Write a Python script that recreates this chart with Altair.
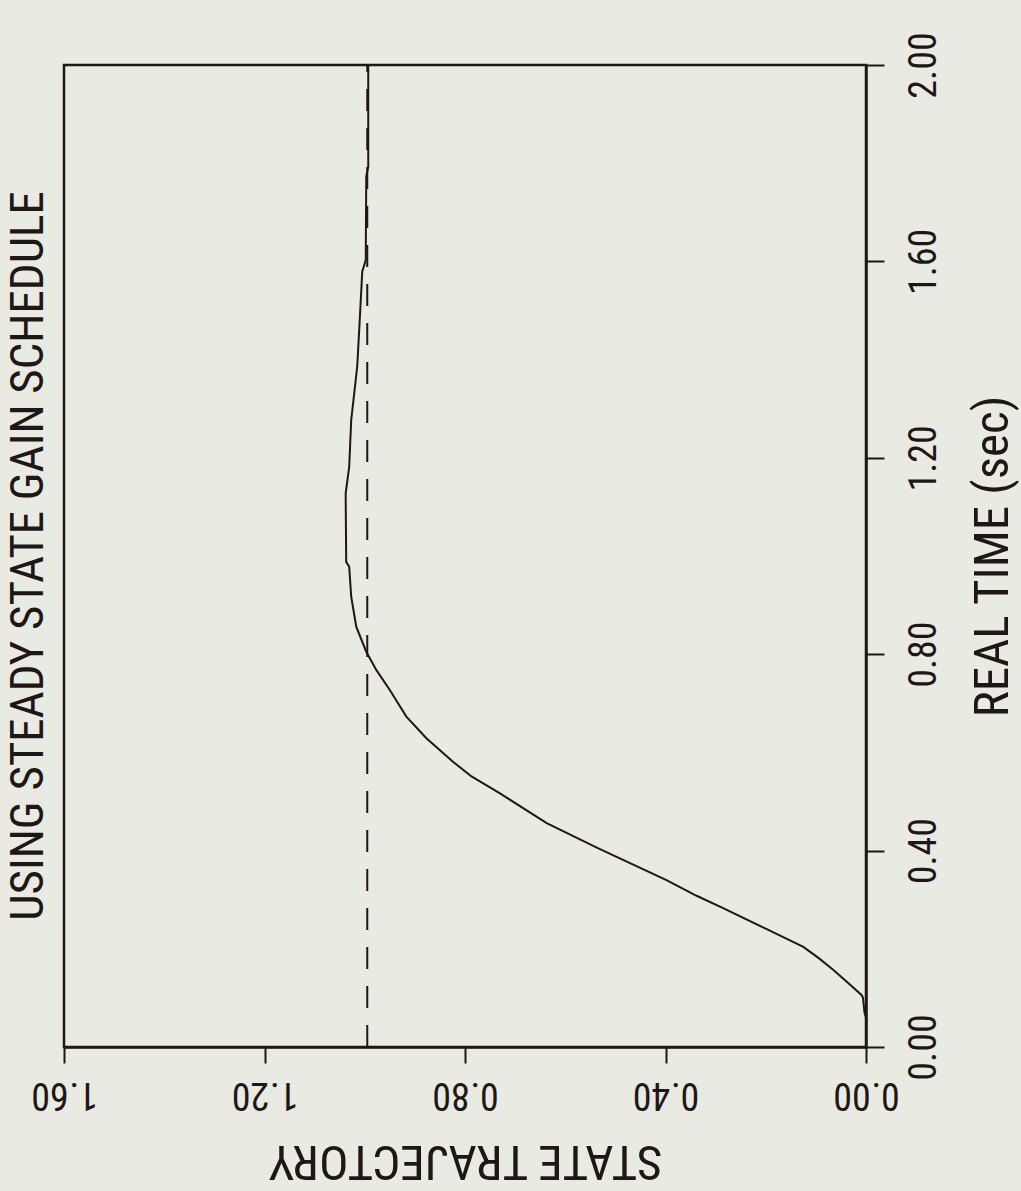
import altair as alt
import pandas as pd

# ---- data ----
time_s = [0.00, 0.06, 0.07, 0.10, 0.106, 0.130, 0.157, 0.180, 0.204, 0.240, 0.283, 0.308, 0.340,
          0.405, 0.456, 0.517, 0.551, 0.581, 0.629, 0.673, 0.727, 0.768, 0.805,
          0.856, 0.917, 0.978, 0.988, 1.114, 1.128, 1.182, 1.277, 1.331, 1.386,
          1.481, 1.579, 1.603, 1.773, 1.793, 2.00]
state = [0.000, 0.000, 0.003, 0.006, 0.009, 0.035, 0.065, 0.093, 0.125, 0.198, 0.285, 0.338, 0.398,
         0.535, 0.637, 0.731, 0.787, 0.824, 0.877, 0.917, 0.950, 0.977, 0.997,
         1.017, 1.027, 1.031, 1.037, 1.038, 1.038, 1.031, 1.027, 1.021, 1.015,
         1.010, 1.005, 0.998, 0.997, 0.993, 0.993]
ref_state = [0.995]
ref_t0 = [0.0]
ref_t1 = [2.0]
time_ticks = [0.0, 0.4, 0.8, 1.2, 1.6, 2.0]
state_ticks = [0.0, 0.4, 0.8, 1.2, 1.6]

FONT = "Roboto Condensed, Roboto, sans-serif"
INK = "#1f1717"
BG = "#e9eae2"

curve_df = pd.DataFrame({"state": state, "time": time_s})
ref_df = pd.DataFrame({"state": ref_state, "t0": ref_t0, "t1": ref_t1})

x_scale = alt.Scale(domain=[0, 1.6], reverse=True, nice=False, zero=False)
y_scale = alt.Scale(domain=[0, 2.0], nice=False, zero=False)

x_axis = alt.Axis(
    title="STATE TRAJECTORY", orient="bottom", values=state_ticks, format=".2f",
    labelAngle=180, labelAlign="center", labelBaseline="bottom",
    labelFont=FONT, labelFontSize=38, labelColor=INK, labelPadding=11,
    labelFlush=False, labelOverlap=False,
    tickSize=16, tickColor=INK, tickWidth=2,
    domainColor=INK, domainWidth=2.5, grid=False,
    titleAngle=180, titleBaseline="bottom", titleAlign="center",
    titleFont=FONT, titleFontSize=49, titleFontWeight="normal",
    titleColor=INK, titlePadding=23,
)

y_axis = alt.Axis(
    title="REAL TIME (sec)", orient="right", values=time_ticks, format=".2f",
    labelAngle=270, labelAlign="center", labelBaseline="top",
    labelFont=FONT, labelFontSize=38, labelColor=INK, labelPadding=21,
    labelFlush=False, labelOverlap=False,
    tickSize=18, tickColor=INK, tickWidth=2,
    domainColor=INK, domainWidth=2.5, grid=False,
    titleAngle=270, titleBaseline="top", titleAlign="center",
    titleFont=FONT, titleFontSize=49, titleFontWeight="normal",
    titleColor=INK, titlePadding=25,
)

curve = alt.Chart(curve_df).mark_line(color=INK, strokeWidth=2).encode(
    x=alt.X("state:Q", scale=x_scale, axis=x_axis),
    y=alt.Y("time:Q", scale=y_scale, axis=y_axis),
    order=alt.Order("time:Q"),
)

ref = alt.Chart(ref_df).mark_rule(color=INK, strokeWidth=2, strokeDash=[22, 17]).encode(
    x=alt.X("state:Q", scale=x_scale),
    y=alt.Y("t0:Q", scale=y_scale),
    y2="t1:Q",
)

chart = alt.layer(ref, curve).properties(
    width=802,
    height=982,
    padding={"left": 64, "top": 65, "right": 155, "bottom": 144},
    autosize=alt.AutoSizeParams(type="none"),
    background=BG,
    title=alt.Title(
        "USING STEADY STATE GAIN SCHEDULE", orient="left", anchor="middle",
        frame="group", offset=-22,
        font=FONT, fontSize=47, fontWeight="normal", color=INK,
    ),
).configure_view(stroke=INK, strokeWidth=2.5)

chart.save("out.html", embed_options={"renderer": "svg", "actions": False})
